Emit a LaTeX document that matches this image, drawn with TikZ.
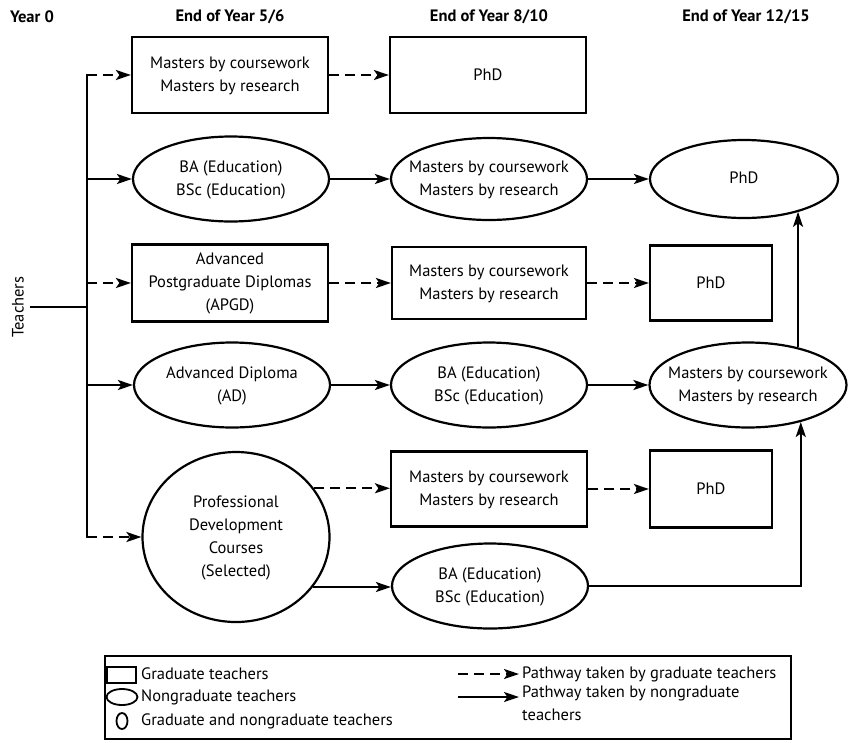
\documentclass[tikz,border=0pt]{standalone}
\usepackage{fontspec}
\setmainfont{PT Sans}
\usetikzlibrary{shapes.geometric,arrows.meta}
\newcommand{\tl}[1]{\begin{tabular}{@{}c@{}}#1\end{tabular}}
\newcommand{\zw}[1]{\makebox[0pt]{\begin{tabular}{@{}c@{}}#1\end{tabular}}}
\begin{document}
\begin{tikzpicture}[x=1pt,y=-1pt,
  every node/.style={font=\fontsize{16.5}{23}\selectfont, inner sep=0pt},
  hdr/.style={font=\fontsize{16.5}{18}\selectfont\bfseries},
  rbox/.style={draw, line width=2.2pt, minimum width=196pt, minimum height=76pt},
  sbox/.style={draw, line width=2.2pt, minimum width=122pt, minimum height=76pt},
  oval/.style={draw, ellipse, line width=2.2pt, minimum width=196pt, minimum height=85pt},
  conn/.style={line width=2.2pt},
  sol/.style={conn, -{Stealth[length=15pt,width=10pt,inset=3.5pt]}},
  dsh/.style={sol, dash pattern=on 10pt off 6pt},
  lsym/.style={draw, line width=1.8pt}]
\useasboundingbox (0,0) rectangle (848,742);

% headers
\node[hdr] (h0) at (32,17) {Year 0};
\node[hdr] (h1) at (230,17) {End of Year 5/6};
\node[hdr] (h2) at (489,17) {End of Year 8/10};
\node[hdr] (h3) at (746,17) {End of Year 12/15};

% row 1
\node[rbox] (m1) at (230,75) {\tl{Masters by coursework\\Masters by research}};
\node[rbox] (p1) at (488,75) {PhD};
% row 2
\node[oval] (e1) at (231,179) {\zw{BA (Education)\\BSc (Education)}};
\node[oval, minimum height=82pt] (e2) at (489,179) {\zw{Masters by coursework\\Masters by research}};
\node[oval, minimum width=188pt, minimum height=78pt] (e3) at (744,179) {\zw{PhD}};
% row 3
\node[rbox, minimum height=77pt] (a3) at (230,283) {\tl{Advanced\\Postgraduate Diplomas\\(APGD)}};
\node[rbox, minimum width=194pt, minimum height=72pt] (b3) at (489,283) {\tl{Masters by coursework\\Masters by research}};
\node[sbox, minimum height=75pt] (c3) at (711,283) {PhD};
% row 4
\node[oval] (a4) at (232,385) {\zw{Advanced Diploma\\(AD)}};
\node[oval] (b4) at (489,385) {\zw{BA (Education)\\BSc (Education)}};
\node[oval, minimum width=197pt] (c4) at (748,385) {\zw{Masters by coursework\\Masters by research}};
% row 5
\node[oval, minimum width=187pt, minimum height=170pt] (c5) at (236,537) {\zw{Professional\\Development\\Courses\\(Selected)}};
\node[rbox, minimum height=75pt] (r5a) at (489,489) {\tl{Masters by coursework\\Masters by research}};
\node[sbox, minimum height=77pt] (r5b) at (711,489) {PhD};
\node[oval] (e5) at (490,586) {\zw{BA (Education)\\BSc (Education)}};

% teachers trunk
\node[rotate=90] (teach) at (18,307) {Teachers};
\coordinate (tj) at (87,307);
\coordinate (t1) at (87,75);
\coordinate (t2) at (87,179);
\coordinate (t3) at (87,283);
\coordinate (t4) at (87,385);
\coordinate (t5) at (87,537);
\draw[conn] ([xshift=6pt]teach.south) -- (tj);
\draw[conn] ([yshift=1.1pt]t1) -- ([yshift=-1.1pt]t5);
\draw[dsh] (t1) -- (m1.west);
\draw[sol] (t2) -- (e1.west);
\draw[dsh] (t3) -- (a3.west);
\draw[sol] (t4) -- (a4.west);
\draw[dsh] (t5) -- (c5.west);

% pathways
\draw[dsh] (m1.east) -- (p1.west);
\draw[sol] (e1.east) -- (e2.west);
\draw[sol] (e2.east) -- (e3.west);
\draw[dsh] (a3.east) -- (b3.west);
\draw[dsh] (b3.east) -- (c3.west);
\draw[sol] (a4.east) -- (b4.west);
\draw[sol] (b4.east) -- (c4.west);
\draw[dsh] (c5.32) -- (c5.32 -| r5a.west);
\draw[dsh] (r5a.east) -- (r5b.west);
\draw[sol] (c5.-33) -- (c5.-33 -| e5.west);
\draw[sol] (e5.east) -| (c4.-35.5);
\draw[sol] (c4.37) -- (c4.37 |- e3.-31.3);

% legend
\node[draw, line width=1.8pt, minimum width=686pt, minimum height=83pt, anchor=north west] (leg) at (104,655) {};
\node[lsym, minimum width=29pt, minimum height=16pt] (ls1) at (121.5,675) {};
\node[lsym, ellipse, minimum width=31pt, minimum height=16pt] (ls2) at (122,697) {};
\node[lsym, ellipse, minimum width=11pt, minimum height=16pt] (ls3) at (122,721) {};
\node[anchor=west] (lt1) at (141,674) {Graduate teachers};
\node[anchor=west] (lt2) at (141,697) {Nongraduate teachers};
\node[anchor=west] (lt3) at (141,721) {Graduate and nongraduate teachers};
\node[anchor=west] (lt4) at (522,674) {Pathway taken by graduate teachers};
\node[anchor=north west, align=left] (lt5) at (522,686) {Pathway taken by nongraduate\\teachers};
\coordinate (la1) at (458,674);
\coordinate (la2) at (458,697);
\draw[dsh] (la1) -- ([xshift=-3pt]lt4.west);
\draw[sol] (la2) -- ([xshift=-3pt]lt5.west |- la2);
\end{tikzpicture}
\end{document}
